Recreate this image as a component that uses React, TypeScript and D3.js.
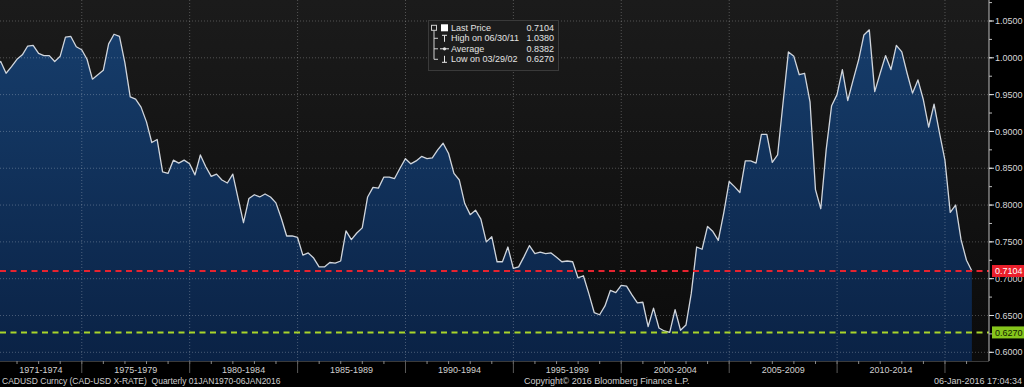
import React, { useEffect, useRef } from "react";
import * as d3 from "d3";

const W = 1024;
const H = 387;
const FONT = "'Liberation Sans', Arial, sans-serif";

// quarter-end CAD-USD rates, one array per decade (first value = Q1 of that decade)
const q1970s = [
  0.930, 0.967, 0.978, 0.990,
  0.995, 0.979, 0.988, 0.998,
  1.004, 1.016, 1.017, 1.006,
  1.003, 1.003, 0.995, 1.002,
  1.028, 1.029, 1.015, 1.011,
  0.998, 0.971, 0.977, 0.983,
  1.019, 1.032, 1.029, 0.993,
  0.947, 0.944, 0.933, 0.913,
  0.885, 0.889, 0.845, 0.843,
  0.861, 0.857, 0.861, 0.856,
];
const q1980s = [
  0.841, 0.868, 0.852, 0.839,
  0.842, 0.834, 0.830, 0.842,
  0.809, 0.776, 0.809, 0.814,
  0.811, 0.815, 0.811, 0.803,
  0.782, 0.758, 0.758, 0.756,
  0.732, 0.735, 0.728, 0.716,
  0.716, 0.722, 0.721, 0.724,
  0.765, 0.753, 0.762, 0.769,
  0.811, 0.824, 0.823, 0.838,
  0.838, 0.836, 0.850, 0.863,
];
const q1990s = [
  0.856, 0.860, 0.866, 0.863,
  0.864, 0.875, 0.884, 0.870,
  0.843, 0.834, 0.802, 0.787,
  0.793, 0.781, 0.750, 0.757,
  0.723, 0.723, 0.743, 0.714,
  0.716, 0.730, 0.745, 0.734,
  0.736, 0.734, 0.735, 0.729,
  0.723, 0.724, 0.723, 0.701,
  0.704, 0.680, 0.654, 0.651,
  0.663, 0.684, 0.681, 0.691,
];
const q2000s = [
  0.690, 0.678, 0.667, 0.668,
  0.635, 0.660, 0.633, 0.629,
  0.627, 0.658, 0.630, 0.637,
  0.680, 0.743, 0.740, 0.771,
  0.764, 0.752, 0.789, 0.832,
  0.825, 0.817, 0.860, 0.860,
  0.857, 0.896, 0.896, 0.858,
  0.868, 0.938, 1.008, 1.002,
  0.977, 0.979, 0.940, 0.821,
  0.795, 0.875, 0.935, 0.950,
];
const q2010s = [
  0.984, 0.942, 0.970, 0.997,
  1.031, 1.038, 0.954, 0.979,
  1.003, 0.984, 1.017, 1.008,
  0.979, 0.952, 0.970, 0.943,
  0.906, 0.937, 0.898, 0.861,
  0.790, 0.800, 0.753, 0.725,
  0.7104,
];

const periodStarts = [1970, 1975, 1980, 1985, 1990, 1995, 2000, 2005, 2010];
const periodLabels = [
  "1971-1974", "1975-1979", "1980-1984", "1985-1989", "1990-1994",
  "1995-1999", "2000-2004", "2005-2009", "2010-2014",
];
const yTicks = [0.6, 0.65, 0.7, 0.75, 0.8, 0.85, 0.9, 0.95, 1.0, 1.05];

const lastPrice = 0.7104;
const lowPrice = 0.627;
const legendRows = [
  { label: "Last Price", value: "0.7104" },
  { label: "High on 06/30/11", value: "1.0380" },
  { label: "Average", value: "0.8382" },
  { label: "Low on 03/29/02", value: "0.6270" },
];

export default function App() {
  const ref = useRef<SVGSVGElement>(null);

  useEffect(() => {
    document.body.style.margin = "0";
    document.body.style.background = "#000";
    const svg = d3.select(ref.current);
    svg.selectAll("*").remove();

    const plot = { left: 0, top: 0, right: 989, bottom: 361 };
    const values = [...q1970s, ...q1980s, ...q1990s, ...q2000s, ...q2010s];
    const data = values.map((v, i) => ({ date: new Date(1970, 3 * (i + 1), 0), value: v }));

    const x = d3.scaleTime()
      .domain([new Date(1971, 2, 19), new Date(2017, 0, 15)])
      .range([plot.left, plot.right]);
    const y = d3.scaleLinear().domain([0.6, 1.05]).range([352.3, 21]);

    const defs = svg.append("defs");
    const bg = defs.append("linearGradient").attr("id", "bg")
      .attr("x1", 0).attr("x2", 0).attr("y1", 0).attr("y2", 1);
    bg.append("stop").attr("offset", "0%").attr("stop-color", "#1b1b1b");
    bg.append("stop").attr("offset", "100%").attr("stop-color", "#0b0b0b");
    const fillGrad = defs.append("linearGradient").attr("id", "fillGrad")
      .attr("gradientUnits", "userSpaceOnUse")
      .attr("x1", 0).attr("x2", 0).attr("y1", plot.top).attr("y2", plot.bottom);
    fillGrad.append("stop").attr("offset", "0%").attr("stop-color", "#173f6e");
    fillGrad.append("stop").attr("offset", "100%").attr("stop-color", "#0a2245");
    defs.append("clipPath").attr("id", "clip").append("rect")
      .attr("x", plot.left).attr("y", plot.top)
      .attr("width", plot.right - plot.left).attr("height", plot.bottom - plot.top);

    svg.append("rect").attr("width", W).attr("height", H).attr("fill", "#000");
    svg.append("rect")
      .attr("x", plot.left).attr("y", plot.top)
      .attr("width", plot.right - plot.left).attr("height", plot.bottom - plot.top)
      .attr("fill", "url(#bg)");

    const g = svg.append("g").attr("clip-path", "url(#clip)");

    const area = d3.area<{ date: Date; value: number }>()
      .x(d => x(d.date)).y0(plot.bottom).y1(d => y(d.value));
    g.append("path").datum(data).attr("d", area).attr("fill", "url(#fillGrad)");

    // dotted grid
    yTicks.forEach(t => {
      g.append("line")
        .attr("x1", plot.left).attr("x2", plot.right)
        .attr("y1", y(t)).attr("y2", y(t))
        .attr("stroke", "rgba(255,255,255,0.25)")
        .attr("stroke-dasharray", "1,2");
    });
    const fiveYears = d3.range(1975, 2020, 5);
    fiveYears.forEach(yr => {
      g.append("line")
        .attr("x1", x(new Date(yr, 0, 1))).attr("x2", x(new Date(yr, 0, 1)))
        .attr("y1", plot.top).attr("y2", plot.bottom)
        .attr("stroke", "rgba(255,255,255,0.25)")
        .attr("stroke-dasharray", "1,2");
    });

    const line = d3.line<{ date: Date; value: number }>()
      .x(d => x(d.date)).y(d => y(d.value));
    g.append("path").datum(data).attr("d", line)
      .attr("fill", "none").attr("stroke", "#d0d5dc").attr("stroke-width", 1.3)
      .attr("stroke-linejoin", "round");

    // reference lines
    [{ v: lastPrice, c: "#e8232f" }, { v: lowPrice, c: "#a9d52a" }].forEach(r => {
      g.append("line")
        .attr("x1", plot.left).attr("x2", plot.right)
        .attr("y1", y(r.v)).attr("y2", y(r.v))
        .attr("stroke", r.c).attr("stroke-width", 2)
        .attr("stroke-dasharray", "6,4.5");
    });

    // right axis
    const ax = svg.append("g");
    ax.append("line")
      .attr("x1", plot.right).attr("x2", plot.right)
      .attr("y1", plot.top).attr("y2", plot.bottom)
      .attr("stroke", "#bdbdbd");
    d3.range(0.575, 1.08, 0.025).forEach(t => {
      if (y(t) < plot.top || y(t) > plot.bottom) return;
      ax.append("line")
        .attr("x1", plot.right).attr("x2", plot.right + 3)
        .attr("y1", y(t)).attr("y2", y(t))
        .attr("stroke", "#bdbdbd");
    });
    yTicks.forEach(t => {
      ax.append("line")
        .attr("x1", plot.right).attr("x2", plot.right + 5)
        .attr("y1", y(t)).attr("y2", y(t))
        .attr("stroke", "#e0e0e0");
      ax.append("text")
        .attr("x", plot.right + 6).attr("y", y(t)).attr("dy", "0.35em")
        .attr("font-family", FONT).attr("font-size", 9).attr("fill", "#d6d6d6")
        .text(t.toFixed(4));
    });

    // value tags
    [{ v: lastPrice, bgc: "#ea1f2b", fg: "#ffffff" }, { v: lowPrice, bgc: "#86c51c", fg: "#112200" }].forEach(r => {
      ax.append("rect")
        .attr("x", plot.right + 3).attr("y", y(r.v) - 6)
        .attr("width", 32).attr("height", 12).attr("fill", r.bgc);
      ax.append("text")
        .attr("x", plot.right + 6).attr("y", y(r.v)).attr("dy", "0.35em")
        .attr("font-family", FONT).attr("font-size", 9).attr("fill", r.fg)
        .text(r.v.toFixed(4));
    });

    // bottom axis
    const bx = svg.append("g");
    bx.append("line")
      .attr("x1", plot.left).attr("x2", plot.right)
      .attr("y1", plot.bottom + 0.5).attr("y2", plot.bottom + 0.5)
      .attr("stroke", "#3a3a3a");
    d3.range(1972, 2017).forEach(yr => {
      const xx = x(new Date(yr, 0, 1));
      bx.append("line")
        .attr("x1", xx).attr("x2", xx)
        .attr("y1", plot.bottom).attr("y2", plot.bottom + 3)
        .attr("stroke", "#8a8a8a");
    });
    fiveYears.forEach(yr => {
      const xx = x(new Date(yr, 0, 1));
      bx.append("line")
        .attr("x1", xx).attr("x2", xx)
        .attr("y1", plot.bottom).attr("y2", plot.bottom + 12)
        .attr("stroke", "#5a5a5a");
    });
    periodStarts.forEach((s, i) => {
      const x0 = Math.max(plot.left, x(new Date(s, 0, 1)));
      const x1 = x(new Date(s + 5, 0, 1));
      bx.append("text")
        .attr("x", (x0 + x1) / 2).attr("y", 373)
        .attr("text-anchor", "middle")
        .attr("font-family", FONT).attr("font-size", 9).attr("fill", "#d0d0d0")
        .text(periodLabels[i]);
    });

    // footer
    const foot = svg.append("g")
      .attr("font-family", FONT).attr("font-size", 9).attr("fill", "#cfcfcf");
    foot.append("text").attr("x", 2).attr("y", 384)
      .attr("font-size", 8.5).style("white-space", "pre")
      .text("CADUSD Curncy (CAD-USD X-RATE)  Quarterly 01JAN1970-06JAN2016");
    foot.append("text").attr("x", 524).attr("y", 384)
      .text("Copyright© 2016 Bloomberg Finance L.P.");
    foot.append("text").attr("x", 1022).attr("y", 384).attr("text-anchor", "end")
      .text("06-Jan-2016 17:04:34");

    // legend
    const lg = svg.append("g");
    lg.append("rect")
      .attr("x", 428.5).attr("y", 20.5).attr("width", 130).attr("height", 50)
      .attr("fill", "#1c1c1c").attr("stroke", "#3a3a3a");
    const rowY = (i: number) => 27.8 + i * 10.5;
    // tree bracket
    lg.append("rect").attr("x", 431.5).attr("y", rowY(0) - 2.5)
      .attr("width", 5).attr("height", 5).attr("fill", "none").attr("stroke", "#cfcfcf");
    lg.append("line").attr("x1", 434).attr("x2", 434)
      .attr("y1", rowY(0) + 2.5).attr("y2", rowY(3))
      .attr("stroke", "#cfcfcf");
    [1, 2, 3].forEach(i => {
      lg.append("line").attr("x1", 434).attr("x2", 438)
        .attr("y1", rowY(i)).attr("y2", rowY(i)).attr("stroke", "#cfcfcf");
    });
    // row icons
    lg.append("rect").attr("x", 441).attr("y", rowY(0) - 3.5)
      .attr("width", 7).attr("height", 7).attr("fill", "#ffffff");
    const ic = lg.append("g").attr("stroke", "#e6e6e6").attr("fill", "none");
    ic.append("line").attr("x1", 442).attr("x2", 447).attr("y1", rowY(1) - 3).attr("y2", rowY(1) - 3);
    ic.append("line").attr("x1", 444.5).attr("x2", 444.5).attr("y1", rowY(1) - 3).attr("y2", rowY(1) + 3.5);
    ic.append("line").attr("x1", 440).attr("x2", 449).attr("y1", rowY(2)).attr("y2", rowY(2));
    lg.append("circle").attr("cx", 444.5).attr("cy", rowY(2)).attr("r", 1.6).attr("fill", "#e6e6e6");
    ic.append("line").attr("x1", 442).attr("x2", 447).attr("y1", rowY(3) + 3).attr("y2", rowY(3) + 3);
    ic.append("line").attr("x1", 444.5).attr("x2", 444.5).attr("y1", rowY(3) - 3.5).attr("y2", rowY(3) + 3);

    legendRows.forEach((r, i) => {
      lg.append("text").attr("x", 451).attr("y", rowY(i)).attr("dy", "0.35em")
        .attr("font-family", FONT).attr("font-size", 9).attr("fill", "#e2e2e2")
        .text(r.label);
      lg.append("text").attr("x", 554).attr("y", rowY(i)).attr("dy", "0.35em")
        .attr("text-anchor", "end")
        .attr("font-family", FONT).attr("font-size", 9).attr("fill", "#e2e2e2")
        .text(r.value);
    });
  }, []);

  return <svg ref={ref} width={W} height={H} style={{ display: "block" }} />;
}
